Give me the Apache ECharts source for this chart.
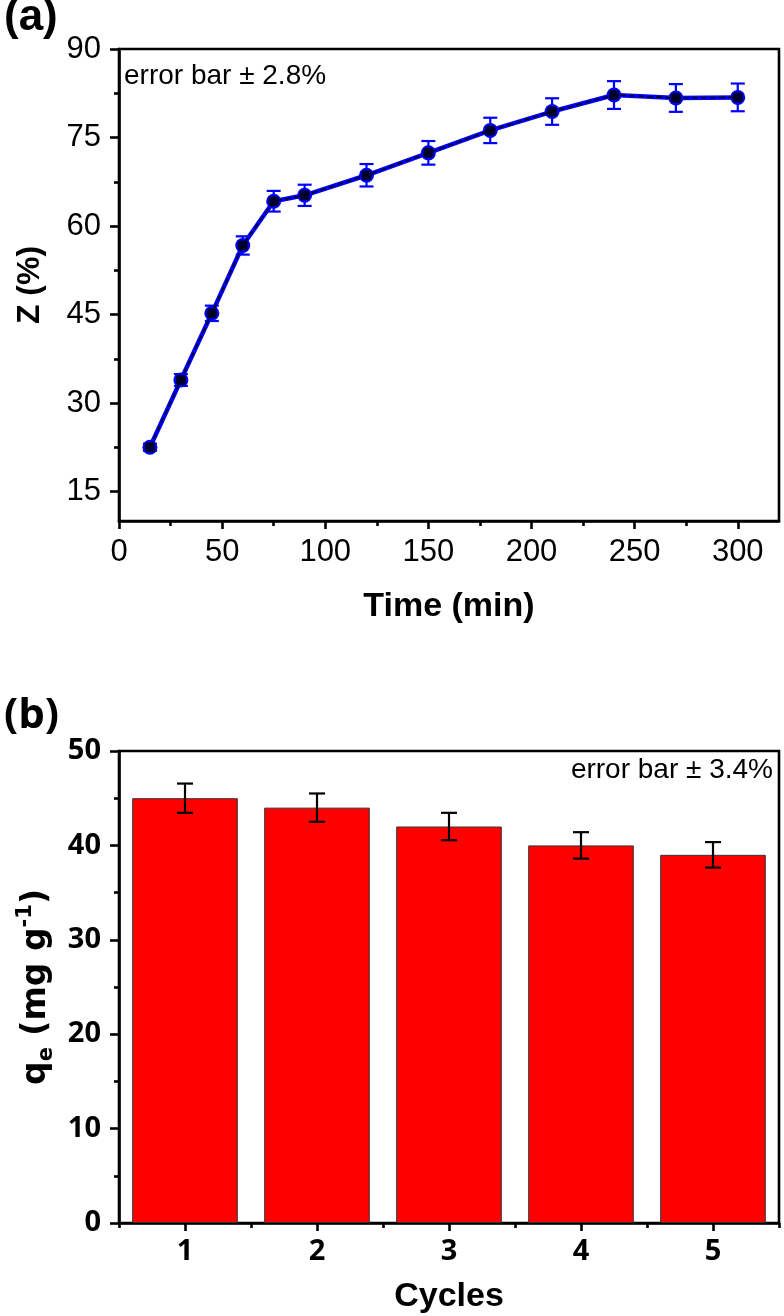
<!DOCTYPE html>
<html>
<head>
<meta charset="utf-8">
<script src="https://cdn.jsdelivr.net/npm/echarts@6/dist/echarts.min.js"></script>
<style>
  html, body { margin: 0; padding: 0; background: #fff; }
  #chart { width: 784px; height: 1316px; }
</style>
</head>
<body>
<div id="chart"></div>
<script>
// ---- Panel (a) data ----
const timeMin = [15, 30, 45, 60, 75, 90, 120, 150, 180, 210, 240, 270, 300];
const zPct    = [22.5, 33.9, 45.2, 56.7, 64.2, 65.2, 68.6, 72.4, 76.2, 79.4, 82.2, 81.7, 81.8];
const zErr    = [0.6, 1.0, 1.3, 1.55, 1.75, 1.8, 1.9, 2.0, 2.15, 2.25, 2.35, 2.35, 2.35];
const timeTicks  = [0, 50, 100, 150, 200, 250, 300];
const timeMinor  = [25, 75, 125, 175, 225, 275];
const zTicks     = [15, 30, 45, 60, 75, 90];
const zMinor     = [22.5, 37.5, 52.5, 67.5, 82.5];

// ---- Panel (b) data ----
const cycles = ['1', '2', '3', '4', '5'];
const qe     = [45, 44, 42, 40, 39];
const qeErr  = [1.55, 1.5, 1.45, 1.4, 1.35];

const chart = echarts.init(document.getElementById('chart'), null, { renderer: 'canvas' });

const black = '#000';
const AX_W = 2.6;
const sansA = 'Liberation Sans';
const sansB = 'Open Sans';
const sansD = 'DejaVu Sans';

function errRenderer(capHalf, color, width) {
  return function (params, api) {
    const x = api.value(0), y = api.value(1), e = api.value(2);
    const top = api.coord([x, y + e]);
    const bot = api.coord([x, y - e]);
    const st = { stroke: color, lineWidth: width };
    return {
      type: 'group',
      children: [
        { type: 'line', shape: { x1: top[0], y1: top[1], x2: bot[0], y2: bot[1] }, style: st },
        { type: 'line', shape: { x1: top[0] - capHalf, y1: top[1], x2: top[0] + capHalf, y2: top[1] }, style: st },
        { type: 'line', shape: { x1: bot[0] - capHalf, y1: bot[1], x2: bot[0] + capHalf, y2: bot[1] }, style: st }
      ]
    };
  };
}

const option = {
  backgroundColor: '#fff',
  animation: false,
  title: [
    { text: '(a)', left: 4, top: -4, padding: 0,
      textStyle: { fontFamily: sansA, fontWeight: 'bold', fontSize: 44, color: black } },
    { text: '(b)', left: 4, top: 695, padding: 0,
      textStyle: { fontFamily: sansB, fontWeight: 'bold', fontSize: 42, color: black } },
    { text: 'error bar \u00b1 2.8%', left: 124, top: 62, padding: 0,
      textStyle: { fontFamily: sansA, fontWeight: 'normal', fontSize: 28, color: black } },
    { text: 'error bar \u00b1 3.4%', right: 11, top: 756, padding: 0,
      textStyle: { fontFamily: sansA, fontWeight: 'normal', fontSize: 28, color: black } }
  ],
  grid: [
    { left: 119, right: 5, top: 49, height: 472, show: true, borderColor: black, borderWidth: AX_W, backgroundColor: 'transparent' },
    { left: 119, right: 5, top: 751, height: 472, show: true, borderColor: black, borderWidth: AX_W, backgroundColor: 'transparent' }
  ],
  xAxis: [
    { // (a) main
      gridIndex: 0, type: 'value', position: 'bottom', min: 0, max: 320,
      axisLine: { show: true, onZero: false, lineStyle: { color: black, width: AX_W } },
      axisTick: { show: true, inside: false, length: 8, customValues: timeTicks, lineStyle: { color: black, width: AX_W } },
      axisLabel: { show: true, customValues: timeTicks, margin: 16, fontFamily: sansA, fontSize: 31, color: black },
      splitLine: { show: false },
      name: 'Time (min)', nameLocation: 'middle', nameGap: 69,
      nameTextStyle: { fontFamily: sansA, fontWeight: 'bold', fontSize: 34, color: black }
    },
    { // (a) minor ticks
      gridIndex: 0, type: 'value', position: 'bottom', min: 0, max: 320,
      axisLine: { show: false, onZero: false },
      axisTick: { show: true, length: 5, customValues: timeMinor, lineStyle: { color: black, width: AX_W } },
      axisLabel: { show: false },
      splitLine: { show: false }
    },
    { // (b) main
      gridIndex: 1, type: 'category', position: 'bottom', data: cycles,
      axisLine: { show: true, onZero: false, lineStyle: { color: black, width: AX_W } },
      axisTick: { show: true, alignWithLabel: true, length: 8, lineStyle: { color: black, width: AX_W } },
      axisLabel: { show: true, margin: 14, fontFamily: sansB, fontWeight: 'bold', fontSize: 29, color: black },
      splitLine: { show: false },
      name: 'Cycles', nameLocation: 'middle', nameGap: 57,
      nameTextStyle: { fontFamily: sansA, fontWeight: 'bold', fontSize: 34, color: black }
    },
    { // (b) boundary minor ticks
      gridIndex: 1, type: 'category', position: 'bottom', data: cycles,
      axisLine: { show: false, onZero: false },
      axisTick: { show: true, alignWithLabel: false, length: 5, lineStyle: { color: black, width: AX_W } },
      axisLabel: { show: false },
      splitLine: { show: false }
    }
  ],
  yAxis: [
    { // (a) main
      gridIndex: 0, type: 'value', position: 'left', min: 10, max: 90,
      axisLine: { show: true, onZero: false, lineStyle: { color: black, width: AX_W } },
      axisTick: { show: true, length: 9, customValues: zTicks, lineStyle: { color: black, width: AX_W } },
      axisLabel: { show: true, customValues: zTicks, margin: 18, fontFamily: sansA, fontSize: 31, color: black },
      splitLine: { show: false },
      name: 'Z (%)', nameLocation: 'middle', nameGap: 73,
      nameTextStyle: { fontFamily: sansA, fontWeight: 'bold', fontSize: 32, color: black }
    },
    { // (a) minor ticks
      gridIndex: 0, type: 'value', position: 'left', min: 10, max: 90,
      axisLine: { show: false, onZero: false },
      axisTick: { show: true, length: 5, customValues: zMinor, lineStyle: { color: black, width: AX_W } },
      axisLabel: { show: false },
      splitLine: { show: false }
    },
    { // (b) main
      gridIndex: 1, type: 'value', position: 'left', min: 0, max: 50, interval: 10,
      axisLine: { show: true, onZero: false, lineStyle: { color: black, width: AX_W } },
      axisTick: { show: true, length: 9, lineStyle: { color: black, width: AX_W } },
      minorTick: { show: true, splitNumber: 2, length: 5, lineStyle: { color: black, width: AX_W } },
      axisLabel: { show: true, margin: 18, fontFamily: sansB, fontWeight: 'bold', fontSize: 29, color: black },
      splitLine: { show: false },
      minorSplitLine: { show: false },
      name: '{b|q}{sub|e}{b| (mg g}{sup|-1}{b|)}', nameLocation: 'middle', nameGap: 62,
      nameTextStyle: {
        fontFamily: sansD, fontWeight: 'bold', fontSize: 33, color: black,
        rich: {
          b:   { fontFamily: sansD, fontWeight: 'bold', fontSize: 33, color: black, lineHeight: 42, verticalAlign: 'middle' },
          sub: { fontFamily: sansD, fontWeight: 'bold', fontSize: 21, color: black, lineHeight: 42, verticalAlign: 'bottom' },
          sup: { fontFamily: sansD, fontWeight: 'bold', fontSize: 21, color: black, lineHeight: 42, verticalAlign: 'top' }
        }
      }
    }
  ],
  series: [
    { // (a) error bars
      type: 'custom', xAxisIndex: 0, yAxisIndex: 0, z: 2,
      renderItem: errRenderer(7, '#0000ff', 2.2),
      data: timeMin.map((t, i) => [t, zPct[i], zErr[i]])
    },
    { // (a) line (blue)
      type: 'line', xAxisIndex: 0, yAxisIndex: 0, z: 3,
      data: timeMin.map((t, i) => [t, zPct[i]]),
      lineStyle: { color: '#0000ff', width: 4.5 },
      symbol: 'circle', symbolSize: 15,
      itemStyle: { color: '#0000ff' }
    },
    { // (a) dark core of the line
      type: 'line', xAxisIndex: 0, yAxisIndex: 0, z: 4,
      data: timeMin.map((t, i) => [t, zPct[i]]),
      lineStyle: { color: '#000', width: 1.4, type: [6, 3] },
      symbol: 'none'
    },
    { // (a) black marker centers
      type: 'scatter', xAxisIndex: 0, yAxisIndex: 0, z: 5,
      data: timeMin.map((t, i) => [t, zPct[i]]),
      symbol: 'roundRect', symbolSize: 10,
      itemStyle: { color: '#000' }
    },
    { // (b) bars
      type: 'bar', xAxisIndex: 2, yAxisIndex: 2, z: 2,
      data: qe, barWidth: '80%',
      itemStyle: { color: '#ff0000', borderColor: '#333', borderWidth: 1 }
    },
    { // (b) error bars
      type: 'custom', xAxisIndex: 2, yAxisIndex: 2, z: 3,
      renderItem: errRenderer(8, '#000', 2.2),
      data: cycles.map((c, i) => [i, qe[i], qeErr[i]])
    }
  ]
};

chart.setOption(option);
</script>
</body>
</html>
